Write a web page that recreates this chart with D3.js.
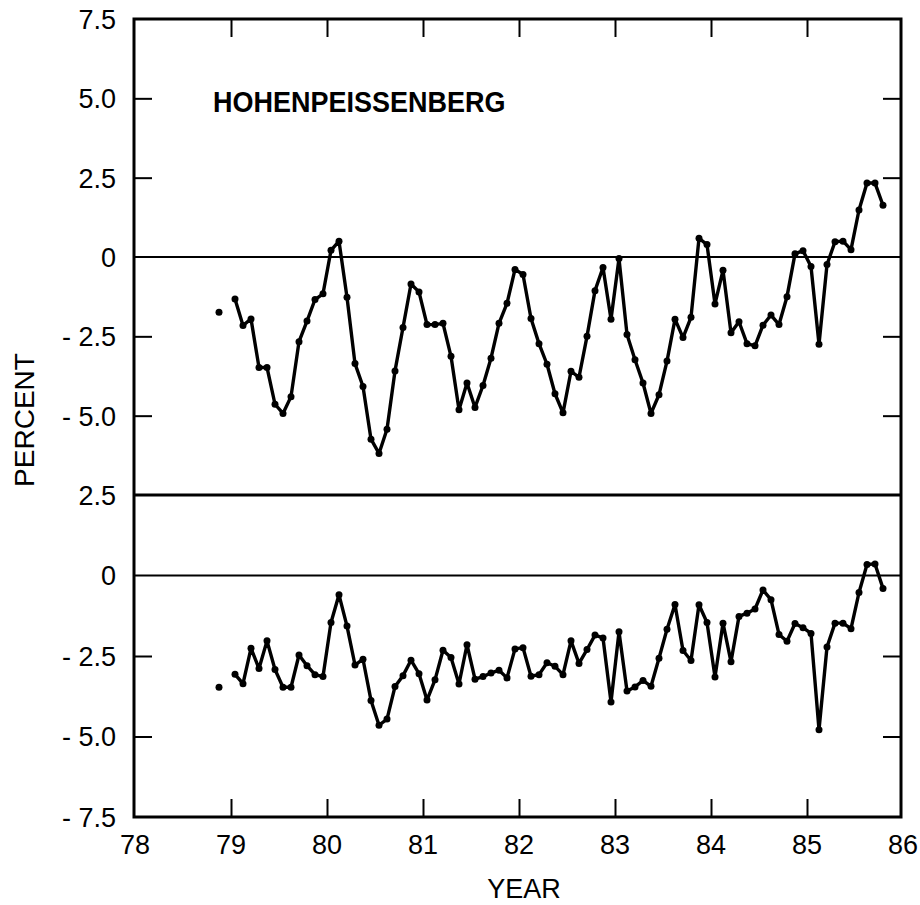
<!DOCTYPE html>
<html>
<head>
<meta charset="utf-8">
<script src="https://cdn.jsdelivr.net/npm/d3@7"></script>
<style>
  html, body { margin: 0; padding: 0; background: #fff; }
  svg { display: block; }
  text { font-family: "Liberation Sans", Arial, Helvetica, sans-serif; fill: #000; }
</style>
</head>
<body>
<svg id="chart" width="920" height="905"></svg>
<script>
// ---- data (monthly values, percent) ----
const months = [
  "1978-11","1978-12",
  "1979-01","1979-02","1979-03","1979-04","1979-05","1979-06","1979-07","1979-08","1979-09","1979-10","1979-11","1979-12",
  "1980-01","1980-02","1980-03","1980-04","1980-05","1980-06","1980-07","1980-08","1980-09","1980-10","1980-11","1980-12",
  "1981-01","1981-02","1981-03","1981-04","1981-05","1981-06","1981-07","1981-08","1981-09","1981-10","1981-11","1981-12",
  "1982-01","1982-02","1982-03","1982-04","1982-05","1982-06","1982-07","1982-08","1982-09","1982-10","1982-11","1982-12",
  "1983-01","1983-02","1983-03","1983-04","1983-05","1983-06","1983-07","1983-08","1983-09","1983-10","1983-11","1983-12",
  "1984-01","1984-02","1984-03","1984-04","1984-05","1984-06","1984-07","1984-08","1984-09","1984-10","1984-11","1984-12",
  "1985-01","1985-02","1985-03","1985-04","1985-05","1985-06","1985-07","1985-08","1985-09","1985-10"
];
const upperSeries = [
  -1.74, null,
  -1.32, -2.16, -1.95, -3.48, -3.48, -4.64, -4.93, -4.40, -2.67, -2.02, -1.34, -1.16,
   0.21,  0.50, -1.27, -3.36, -4.08, -5.74, -6.19, -5.43, -3.59, -2.22, -0.85, -1.10,
  -2.13, -2.13, -2.09, -3.13, -4.81, -3.97, -4.74, -4.05, -3.19, -2.09, -1.46, -0.39,
  -0.55, -1.94, -2.73, -3.38, -4.31, -4.91, -3.60, -3.79, -2.50, -1.06, -0.33, -1.96,
  -0.05, -2.44, -3.24, -3.97, -4.93, -4.34, -3.28, -1.96, -2.54, -1.90,  0.59,  0.39,
  -1.48, -0.42, -2.39, -2.04, -2.73, -2.80, -2.15, -1.83, -2.13, -1.25,  0.10,  0.20,
  -0.30, -2.75, -0.24,  0.48,  0.50,  0.23,  1.48,  2.33,  2.33,  1.63
];
const lowerSeries = [
  -3.47, null,
  -3.07, -3.36, -2.26, -2.89, -2.03, -2.92, -3.47, -3.47, -2.47, -2.80, -3.08, -3.14,
  -1.46, -0.60, -1.57, -2.78, -2.60, -3.88, -4.65, -4.46, -3.45, -3.11, -2.63, -3.05,
  -3.87, -3.24, -2.32, -2.55, -3.37, -2.15, -3.22, -3.14, -3.03, -2.94, -3.18, -2.28,
  -2.24, -3.13, -3.08, -2.71, -2.82, -3.08, -2.03, -2.73, -2.30, -1.85, -1.94, -3.93,
  -1.75, -3.59, -3.46, -3.26, -3.44, -2.57, -1.67, -0.90, -2.33, -2.64, -0.91, -1.46,
  -3.15, -1.48, -2.68, -1.27, -1.17, -1.04, -0.45, -0.75, -1.83, -2.04, -1.49, -1.62,
  -1.80, -4.79, -2.22, -1.48, -1.48, -1.65, -0.53,  0.34,  0.36, -0.40
];
const xTickValues = [78, 79, 80, 81, 82, 83, 84, 85, 86];
const upperTickValues = [7.5, 5.0, 2.5, 0, -2.5, -5.0];
const lowerTickValues = [2.5, 0, -2.5, -5.0, -7.5];
const stationName = "HOHENPEISSENBERG";
const xTitle = "YEAR";
const yTitle = "PERCENT";

// ---- layout ----
const L = 134, R = 901, T = 19, B = 817, MID = 495;
const svg = d3.select("#chart");

const x = d3.scaleLinear().domain([78, 86]).range([135, 903]);
const yUp = d3.scaleLinear().domain([-7.5, 7.5]).range([MID, T]);
const yLo = d3.scaleLinear().domain([-7.5, 2.5]).range([B, MID]);

// month string -> decimal year (mid-month) on the 78..86 axis
function monthPos(s) {
  const [yy, mm] = s.split("-").map(Number);
  return (yy - 1900) + (mm - 0.5) / 12;
}

const fmt = v => v === 0 ? "0" : (v < 0 ? "- " + d3.format(".1f")(-v) : d3.format(".1f")(v));

// zero reference lines
svg.append("line").attr("x1", L).attr("x2", R)
  .attr("y1", yUp(0)).attr("y2", yUp(0)).attr("stroke", "#000").attr("stroke-width", 1.8);
svg.append("line").attr("x1", L).attr("x2", R)
  .attr("y1", yLo(0)).attr("y2", yLo(0)).attr("stroke", "#000").attr("stroke-width", 1.8);

// frame and divider
svg.append("rect").attr("x", L).attr("y", T).attr("width", R - L).attr("height", B - T)
  .attr("fill", "none").attr("stroke", "#000").attr("stroke-width", 3);
svg.append("line").attr("x1", L).attr("x2", R).attr("y1", MID).attr("y2", MID)
  .attr("stroke", "#000").attr("stroke-width", 3);

// axes (inward ticks) using d3 axis generators
const tickLen = 18;
function styleAxis(g) {
  g.select(".domain").remove();
  g.selectAll(".tick line").attr("stroke", "#000").attr("stroke-width", 2);
  g.selectAll(".tick text").remove();
}
const innerX = xTickValues.filter(v => v > 78 && v < 86);
svg.append("g").attr("transform", `translate(0,${B})`)
  .call(d3.axisBottom(x).tickValues(innerX).tickSize(-tickLen)).call(styleAxis);
svg.append("g").attr("transform", `translate(0,${T})`)
  .call(d3.axisTop(x).tickValues(innerX).tickSize(-tickLen)).call(styleAxis);

const upInner = upperTickValues.filter(v => v !== 0 && v !== 7.5);
const loInner = lowerTickValues.filter(v => v !== 0 && v !== 2.5 && v !== -7.5);
svg.append("g").attr("transform", `translate(${L},0)`)
  .call(d3.axisLeft(yUp).tickValues(upInner).tickSize(-tickLen)).call(styleAxis);
svg.append("g").attr("transform", `translate(${L},0)`)
  .call(d3.axisLeft(yLo).tickValues(loInner).tickSize(-tickLen)).call(styleAxis);
svg.append("g").attr("transform", `translate(${R},0)`)
  .call(d3.axisRight(yUp).tickValues(upInner).tickSize(-tickLen)).call(styleAxis);
svg.append("g").attr("transform", `translate(${R},0)`)
  .call(d3.axisRight(yLo).tickValues(loInner).tickSize(-tickLen)).call(styleAxis);

// tick labels
const labelX = 116;
svg.append("g").selectAll("text").data(upperTickValues).join("text")
  .attr("x", labelX).attr("y", d => yUp(d)).attr("dy", "0.37em")
  .attr("text-anchor", "end").attr("font-size", 27).text(fmt);
svg.append("g").selectAll("text").data(lowerTickValues).join("text")
  .attr("x", labelX).attr("y", d => yLo(d)).attr("dy", "0.37em")
  .attr("text-anchor", "end").attr("font-size", 27).text(fmt);
svg.append("g").selectAll("text").data(xTickValues).join("text")
  .attr("x", d => x(d)).attr("y", 854)
  .attr("text-anchor", "middle").attr("font-size", 27).text(d => d);

// axis titles
svg.append("text").attr("x", 524).attr("y", 898).attr("text-anchor", "middle")
  .attr("font-size", 27).text(xTitle);
svg.append("text").attr("transform", "translate(34,420) rotate(-90)")
  .attr("text-anchor", "middle").attr("font-size", 28).text(yTitle);

// station label
svg.append("text").attr("transform", "translate(213,112) scale(1,1.12)").attr("font-size", 27)
  .attr("font-weight", "bold").text(stationName);

// series
function drawSeries(values, yScale) {
  const pts = months.map((m, i) => ({ t: monthPos(m), v: values[i] }));
  const line = d3.line().defined(d => d.v !== null)
    .x(d => x(d.t)).y(d => yScale(d.v));
  svg.append("path").datum(pts).attr("d", line)
    .attr("fill", "none").attr("stroke", "#000").attr("stroke-width", 3.4)
    .attr("stroke-linejoin", "round");
  svg.append("g").selectAll("circle").data(pts.filter(d => d.v !== null)).join("circle")
    .attr("cx", d => x(d.t)).attr("cy", d => yScale(d.v)).attr("r", 3.5).attr("fill", "#000");
}
drawSeries(upperSeries, yUp);
drawSeries(lowerSeries, yLo);
</script>
</body>
</html>
